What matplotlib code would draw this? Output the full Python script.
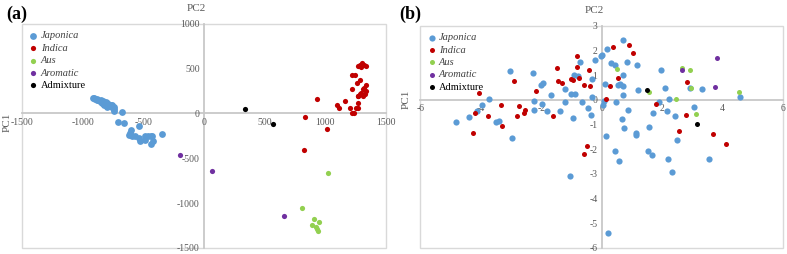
import matplotlib.pyplot as plt

plt.rcParams['font.family'] = ['Liberation Serif', 'DejaVu Serif']

# ---- panel (a) data ----
a_jap_x = [-915, -905, -895, -885, -880, -870, -860, -850, -840, -830, -820, -810, -800, -790,
           -780, -770, -760, -750, -740, -740, -850, -830, -810, -800, -790, -770, -760, -745,
           -820, -800, -678, -706, -655, -599, -538, -616, -594, -571, -538, -524, -482, -462,
           -440, -426, -482, -440, -417, -347, -608]
a_jap_y = [175, 170, 165, 160, 150, 145, 140, 130, 120, 115, 110, 100, 95, 90,
           85, 80, 70, 60, 50, 30, 150, 140, 130, 120, 110, 100, 90, 75,
           90, 75, 19, -93, -104, -179, -142, -235, -246, -254, -272, -310, -246, -254,
           -254, -254, -291, -336, -310, -231, -216]
a_ind_x = [935, 834, 1016, 826, 1100, 1114, 1162, 1207, 1221, 1240, 1254, 1276, 1221, 1221,
           1249, 1260, 1276, 1268, 1288, 1296, 1310, 1324, 1338, 1310, 1288, 1268, 1338, 1330,
           1304, 1318, 1288, 1296, 1338, 1271]
a_ind_y = [164, -37, -172, -403, 90, 63, 134, 63, 0, 0, 63, 63, 276, 433,
           433, 336, 194, 119, 369, 231, 269, 287, 313, 194, 212, 194, 250, 212,
           560, 537, 545, 522, 530, 530]
a_aus_x = [1022, 806, 910, 952, 890, 926, 940, 935]
a_aus_y = [-664, -1059, -1179, -1216, -1242, -1272, -1306, -1290]
a_aro_x = [-193, 64, 661]
a_aro_y = [-463, -645, -1141]
a_adm_x = [336, 574]
a_adm_y = [45, -119]

# ---- panel (b) data ----
b_jap_x = [-4.81, -4.40, -4.11, -3.96, -3.73, -3.51, -3.39, -3.04, -2.95, -2.27, -2.23, -2.23,
           -1.99, -1.93, -1.98, -1.82, -1.69, -1.38, -1.22, -1.20, -1.05, -0.94, -1.00, -0.92,
           -0.88, -0.77, -0.72, -0.66, -0.44, -0.33, -0.33, -0.35, -0.22, -0.02, 0.02, 0.03,
           0.08, 0.14, 0.12, 0.19, 0.22, 0.30, 0.44, 0.48, 0.44, 0.55, 0.59, 0.61, 0.66, 0.70,
           0.70, 0.70, 0.72, 0.75, 0.83, 0.86, 1.14, 1.14, 1.16, 1.19, 1.52, 1.56, 1.67, 1.69,
           1.88, 1.96, 2.10, 2.15, 2.24, 2.21, 2.32, 2.43, 2.49, 2.93, 3.07, 3.31, 3.54, 4.59]
b_jap_y = [-0.92, -0.71, -0.47, -0.23, 0.01, -0.90, -0.85, 1.17, -1.56, 1.08, -0.04, -0.40,
           0.61, 0.67, -0.16, -0.44, 0.20, -0.47, 0.43, -0.09, -3.07, -0.74, 0.24, 1.01,
           0.24, 0.97, 1.51, -0.09, -0.34, 0.84, 0.13, -0.61, 1.59, 1.78, 1.80, -0.20,
           -0.07, -1.46, 0.65, 2.05, -5.39, 1.48, 1.42, -0.11, -2.09, 0.61, -2.49, 0.65, -0.78, 0.57,
           1.00, 2.40, 0.18, -1.15, 1.51, -0.40, -1.35, -1.42, 1.42, 0.38, -2.08, -1.11, -2.22, -0.54,
           -0.09, 1.21, 0.47, -0.47, 0.04, -2.40, -2.94, -0.67, -1.64, 0.47, -0.30, 0.43, -2.39, 0.11]
b_ind_x = [-4.25, -4.20, -4.06, -3.76, -3.34, -3.31, -2.91, -2.80, -2.75, -2.54, -2.56, -2.18,
           -1.60, -1.49, -1.44, -1.30, -1.02, -0.94, -0.83, -0.80, -0.75, -0.59, -0.50, -0.59,
           -0.41, -0.39, 0.14, 0.28, 0.39, 0.55, 0.92, 1.02, 1.79, 2.57, 2.80, 2.82, 3.67, 4.12]
b_ind_y = [-1.35, -0.54, 0.27, -0.67, -0.20, -1.08, 0.77, -0.65, -0.27, -0.43, -0.54, 0.36,
           -0.65, 1.28, 0.77, 0.67, 0.86, 0.81, 1.78, 1.31, 0.89, 0.61, -1.89, -2.18,
           1.19, 0.54, 0.04, 0.54, 2.13, 0.90, 2.20, 1.91, -0.19, -1.28, -0.62, 0.71, -1.37, -1.81]
b_aus_x = [0.50, 1.58, 2.46, 2.65, 2.91, 2.95, 3.13, 4.53]
b_aus_y = [1.25, 0.32, 0.01, 1.28, 1.21, 0.49, -0.59, 0.32]
b_aro_x = [2.65, 3.83, 3.76]
b_aro_y = [1.19, 1.71, 0.51]
b_adm_x = [1.51, 3.16]
b_adm_y = [0.40, -1.00]

groups = ['Japonica', 'Indica', 'Aus', 'Aromatic', 'Admixture']
colors = ['#5B9BD5', '#C00000', '#92D050', '#7030A0', '#000000']


def style_axes(ax, xlim, ylim, xticks, yticks):
    ax.set_xlim(xlim)
    ax.set_ylim(ylim)
    ax.set_xticks(xticks)
    ax.set_yticks(yticks)
    for s in ['top', 'right']:
        ax.spines[s].set_visible(False)
    for s in ['left', 'bottom']:
        ax.spines[s].set_position(('data', 0))
        ax.spines[s].set_color('#C8C8C8')
        ax.spines[s].set_linewidth(1.3)
        ax.spines[s].set_zorder(1)
    ax.patch.set_edgecolor('#D9D9D9')
    ax.patch.set_linewidth(1.0)
    ax.tick_params(length=0, pad=3, labelsize=7, labelcolor='#595959')
    ax.set_xticklabels([str(t) for t in xticks])
    ax.set_yticklabels([str(t) for t in yticks])


def legend(ax):
    leg = ax.legend(loc='upper left', frameon=False, fontsize=7.5, handletextpad=0.3,
                    labelspacing=0.3, borderaxespad=0.3, handlelength=0.8,
                    bbox_to_anchor=(0.0, 1.0))
    for t in leg.get_texts():
        if t.get_text() != 'Admixture':
            t.set_style('italic')
            t.set_color('#404040')


fig = plt.figure(figsize=(7.87, 2.54), dpi=100)
axa = fig.add_axes([0.028, 0.024, 0.462, 0.882])
axb = fig.add_axes([0.534, 0.024, 0.461, 0.875])

a_data = [(a_jap_x, a_jap_y), (a_ind_x, a_ind_y), (a_aus_x, a_aus_y),
          (a_aro_x, a_aro_y), (a_adm_x, a_adm_y)]
b_data = [(b_jap_x, b_jap_y), (b_ind_x, b_ind_y), (b_aus_x, b_aus_y),
          (b_aro_x, b_aro_y), (b_adm_x, b_adm_y)]

for i, (x, y) in enumerate(a_data):
    axa.scatter(x, y, s=24 if i == 0 else 14, c=colors[i], label=groups[i],
                linewidths=0, zorder=3)
for i, (x, y) in enumerate(b_data):
    axb.scatter(x, y, s=20 if i == 0 else 13, c=colors[i], label=groups[i],
                linewidths=0, zorder=3)

style_axes(axa, (-1500, 1500), (-1500, 1000),
           [-1500, -1000, -500, 0, 500, 1000, 1500], [-1500, -1000, -500, 0, 500, 1000])
style_axes(axb, (-6, 6), (-6, 3), [-6, -4, -2, 0, 2, 4, 6], [-6, -5, -4, -3, -2, -1, 0, 1, 2, 3])
legend(axa)
legend(axb)

for ax in [axa, axb]:
    ax.text(0.48, 1.07, 'PC2', transform=ax.transAxes, ha='center', va='center',
            fontsize=8, color='#595959')
    ax.text(-0.04, 0.56 if ax is axa else 0.67, 'PC1', transform=ax.transAxes, rotation=90,
            ha='center', va='center', fontsize=8, color='#595959')

fig.text(0.008, 0.945, '(a)', fontsize=13, fontweight='bold', va='center')
fig.text(0.507, 0.945, '(b)', fontsize=13, fontweight='bold', va='center')

fig.savefig('out.png', dpi=100)
